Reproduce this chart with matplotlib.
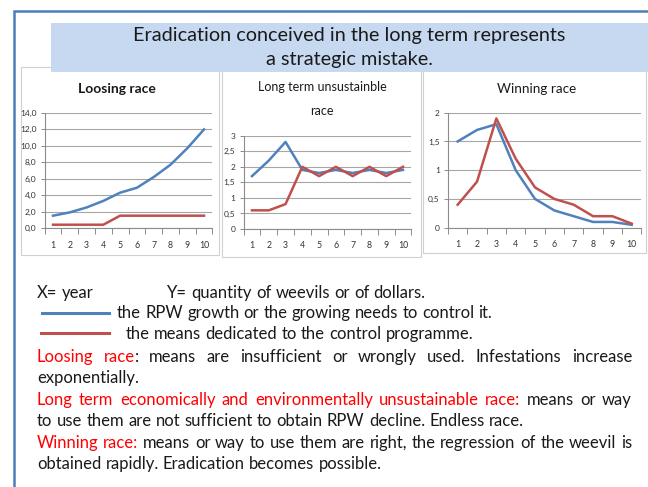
import numpy as np
import matplotlib
matplotlib.use('Agg')
import matplotlib.pyplot as plt
from matplotlib.patches import Rectangle
from matplotlib.lines import Line2D

# data (x = year, y = quantity)
years = list(range(1, 11))

loosing_rpw = [1.5, 1.9, 2.5, 3.3, 4.3, 4.9, 6.2, 7.7, 9.7, 12.0]
loosing_means = [0.4, 0.4, 0.4, 0.4, 1.5, 1.5, 1.5, 1.5, 1.5, 1.5]

longterm_rpw = [1.7, 2.2, 2.8, 1.9, 1.8, 1.9, 1.8, 1.9, 1.8, 1.9]
longterm_means = [0.6, 0.6, 0.8, 2.0, 1.7, 2.0, 1.7, 2.0, 1.7, 2.0]

winning_rpw = [1.5, 1.7, 1.8, 1.0, 0.5, 0.3, 0.2, 0.1, 0.1, 0.05]
winning_means = [0.4, 0.8, 1.9, 1.2, 0.7, 0.5, 0.4, 0.2, 0.2, 0.07]

W, H = 648, 487
BLUE = '#4f81bd'
RED = '#c0504d'
TXT = '#1a1a1a'
BODY = ['Lato', 'DejaVu Sans']
FS = 12

fig = plt.figure(figsize=(W / 100, H / 100), dpi=100)

# background layer in pixel coords
bg = fig.add_axes([0, 0, 1, 1])
bg.set_xlim(0, W)
bg.set_ylim(H, 0)
bg.axis('off')
bg.set_zorder(0)

# slide frame
bg.plot([14, 14, W], [H, 11, 11], color='#4a7ebb', lw=1.8, solid_joinstyle='miter')

# chart panels
for l, t, r, b in [(21, 67, 219, 255), (222, 67, 421, 257), (423, 67, 646, 253)]:
    bg.add_patch(Rectangle((l, t), r - l, b - t, fill=False, ec='#d0d0d0', lw=0.8))

# title box
bg.add_patch(Rectangle((51, 23), W - 51, 49, fc='#c6d9f1', ec='none', zorder=2))
bg.text(349, 36, 'Eradication conceived in the long term represents', ha='center', va='center',
        fontsize=14.3, color=TXT, family=BODY, zorder=3)
bg.text(349, 59, 'a strategic mistake.', ha='center', va='center',
        fontsize=14.3, color=TXT, family=BODY, zorder=3)

# panel titles
bg.text(117, 89, 'Loosing race', ha='center', va='center', fontsize=10, fontweight='bold',
        color=TXT, family=BODY)
bg.text(322, 87, 'Long term unsustainble', ha='center', va='center', fontsize=9,
        color=TXT, family=BODY)
bg.text(322, 111, 'race', ha='center', va='center', fontsize=9, color=TXT, family=BODY)
bg.text(537, 89, 'Winning race', ha='center', va='center', fontsize=9.7,
        color=TXT, family=BODY)


def comma(v, dec):
    if dec:
        return ('%.1f' % v).replace('.', ',')
    s = ('%g' % v).replace('.', ',')
    return s


def make_chart(box, ymax, ystep, dec, rpw, means):
    l, t, r, b = box
    ax = fig.add_axes([l / W, 1 - b / H, (r - l) / W, (b - t) / H])
    ax.set_zorder(1)
    ax.patch.set_alpha(0)
    ax.plot(years, rpw, color=BLUE, lw=1.8, zorder=3)
    ax.plot(years, means, color=RED, lw=1.8, zorder=3)
    ax.set_xlim(0.5, 10.5)
    ax.set_ylim(0, ymax)
    yt = np.arange(0, ymax + ystep / 2, ystep)
    ax.set_yticks(yt)
    ax.set_yticklabels([comma(v, dec) for v in yt])
    ax.set_xticks(years)
    ax.set_xticks(np.arange(0.5, 11, 1), minor=True)
    ax.tick_params(axis='x', which='major', length=0, pad=9, labelsize=6.3, labelcolor='#333333')
    ax.tick_params(axis='x', which='minor', length=4, color='#8c8c8c', width=0.7)
    ax.tick_params(axis='y', length=3, pad=3, labelsize=6.0, labelcolor='#333333',
                   color='#8c8c8c', width=0.7)
    for lab in ax.get_xticklabels() + ax.get_yticklabels():
        lab.set_family(BODY)
    ax.grid(axis='y', color='#a6a6a6', lw=0.8)
    ax.set_axisbelow(True)
    for s in ['top', 'right']:
        ax.spines[s].set_visible(False)
    for s in ['left', 'bottom']:
        ax.spines[s].set_color('#8c8c8c')
        ax.spines[s].set_linewidth(0.8)
    return ax


make_chart((44.6, 113, 212.4, 228), 14, 2, True, loosing_rpw, loosing_means)
make_chart((243.6, 135.7, 411.4, 229), 3, 0.5, False, longterm_rpw, longterm_means)
make_chart((448, 112.7, 641.4, 227.7), 2, 0.5, False, winning_rpw, winning_means)

# legend lines of the caption
bg.add_line(Line2D([42, 109], [313, 313], color=BLUE, lw=2.2))
bg.add_line(Line2D([41, 109], [333, 333], color=RED, lw=2.2))

renderer = fig.canvas.get_renderer()


def put_line(y, words, x0=37, x1=None):
    # words: list of words, each a list of (text, colour) pieces
    texts = []
    widths = []
    for word in words:
        pieces = []
        w = 0
        for txt, col in word:
            t = bg.text(0, y, txt, color=col, fontsize=FS, va='center', ha='left', family=BODY)
            pw = t.get_window_extent(renderer).width
            pieces.append((t, pw))
            w += pw
        texts.append(pieces)
        widths.append(w)
    sp = bg.text(0, 0, 'x x', fontsize=FS, family=BODY)
    nsp = bg.text(0, 0, 'xx', fontsize=FS, family=BODY)
    space = sp.get_window_extent(renderer).width - nsp.get_window_extent(renderer).width
    sp.remove()
    nsp.remove()
    if x1 is not None and len(words) > 1:
        space = (x1 - x0 - sum(widths)) / (len(words) - 1)
    x = x0
    for pieces, w in zip(texts, widths):
        px = x
        for t, pw in pieces:
            t.set_x(px)
            px += pw
        x += w + space


def plain(s, col=TXT):
    return [[(w, col)] for w in s.split()]


RED_T = '#ff0000'
put_line(293, plain('X= year'))
put_line(293, plain('Y= quantity of weevils or of dollars.'), x0=167)
put_line(313, plain('the RPW growth or the growing needs to control it.'), x0=117)
put_line(334, plain('the means dedicated to the control programme.'), x0=126)
put_line(357, [[('Loosing', RED_T)], [('race', RED_T), (':', TXT)]] +
         plain('means are insufficient or wrongly used. Infestations increase'), x1=632)
put_line(378, plain('exponentially.'))
put_line(400, plain('Long term economically and environmentally unsustainable race:', RED_T) +
         plain('means or way'), x1=632)
put_line(421, plain('to use them are not sufficient to obtain RPW decline. Endless race.'))
put_line(443, plain('Winning race:', RED_T) +
         plain('means or way to use them are right, the regression of the weevil is'), x1=632)
put_line(464, plain('obtained rapidly. Eradication becomes possible.'))

fig.savefig('out.png', dpi=100)
